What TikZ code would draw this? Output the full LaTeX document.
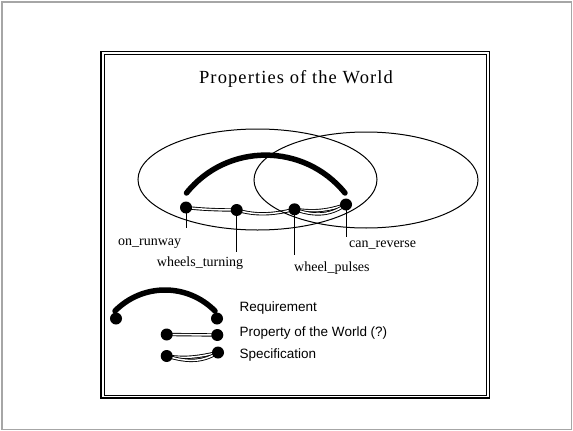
\documentclass[tikz,border=0pt]{standalone}
\usepackage{fontspec}
\setmainfont{Liberation Serif}
\newfontfamily\legendfont{Liberation Sans}
\newfontfamily\titlefont[LetterSpace=6]{Liberation Serif}
\pgfdeclarelayer{bg}
\pgfsetlayers{bg,main}
\begin{document}
\begin{tikzpicture}[x=1pt,y=-1pt,
  dot/.style={circle,fill=black,inner sep=0pt,minimum size=12pt},
  req/.style={line width=5.5pt,line cap=round},
  prop/.style={double=white,double distance=1.5pt,line width=0.9pt},
  lead/.style={line width=0.8pt},
  setline/.style={line width=1pt},
  lbl/.style={anchor=base west,inner sep=0pt,font=\fontsize{14}{16}\selectfont},
  leg/.style={anchor=base west,inner sep=0pt,font=\legendfont\fontsize{13.5}{16}\selectfont}]
\useasboundingbox (0,0) rectangle (573,431);
% outer page frame
\draw[gray!70,line width=1.5pt] (2,2) rectangle (571.5,429.5);
% inner double frame
\draw[line width=1.2pt] (101,51.5) rectangle (489.5,398);
\draw[line width=1pt] (104,54.5) rectangle (486.5,395.5);
% title
\node[anchor=base,inner sep=0pt,font=\titlefont\fontsize{18.5}{22}\selectfont] (title) at (296,83.5) {Properties of the World};
% sets
\draw[setline] (257.5,179.5) ellipse [x radius=119.5pt, y radius=50.5pt];
\draw[setline] (366,180) ellipse [x radius=112pt, y radius=48pt];
% dots
\node[dot] (or) at (186,207.5) {};
\node[dot] (wt) at (236.7,210) {};
\node[dot] (wp) at (294.5,209.3) {};
\node[dot] (cr) at (346,204.5) {};
% requirement arc
\coordinate (ra) at (186.5,193);
\coordinate (rb) at (345,193);
\draw[req] (ra) .. controls (227,142.5) and (304,142.5) .. (rb);
% labels
\node[lbl] (lor) at (118,245) {on\_runway};
\node[lbl] (lwt) at (156.7,266.5) {wheels\_turning};
\node[lbl] (lwp) at (294,271.7) {wheel\_pulses};
\node[lbl] (lcr) at (349,247) {can\_reverse};
\coordinate (eor) at (186,228);
\coordinate (ewt) at (236.7,252);
\coordinate (ewp) at (294.5,255);
\coordinate (ecr) at (346,237);
\begin{pgfonlayer}{bg}
\draw[prop] (or.center) .. controls +(16,2) and +(-16,0) .. (wt.center);
\draw[prop] (wt.center) .. controls +(20,6) and +(-20,5) .. (wp.center);
\draw[prop] (wp.center) .. controls +(20,3) and +(-18,6) .. (cr.center);
\draw[prop] (wp.center) .. controls +(22,8) and +(-14,10) .. (cr.center);
\draw[lead] (or.center) -- (eor);
\draw[lead] (wt.center) -- (ewt);
\draw[lead] (wp.center) -- (ewp);
\draw[lead] (cr.center) -- (ecr);
\end{pgfonlayer}
% legend
\node[dot] (r1) at (116,318.5) {};
\node[dot] (r2) at (217,318.5) {};
\coordinate (la) at (115,311);
\coordinate (lb) at (215,311);
\draw[req] (la) .. controls (142.5,283) and (187.5,283) .. (lb);
\node[dot] (p1) at (166.7,334.5) {};
\node[dot] (p2) at (217.3,335) {};
\node[dot] (s1) at (166.7,356) {};
\node[dot] (s2) at (218,352.5) {};
\begin{pgfonlayer}{bg}
\draw[prop] (p1.center) -- (p2.center);
\draw[prop] (s1.center) .. controls +(20,3) and +(-18,4) .. (s2.center);
\draw[prop] (s1.center) .. controls +(22,7) and +(-14,9) .. (s2.center);
\end{pgfonlayer}
\node[leg] (lreq) at (239.5,311.5) {Requirement};
\node[leg] (lprop) at (239.5,336.5) {Property of the World (?)};
\node[leg] (lspec) at (239.5,358.3) {Specification};
\end{tikzpicture}
\end{document}
